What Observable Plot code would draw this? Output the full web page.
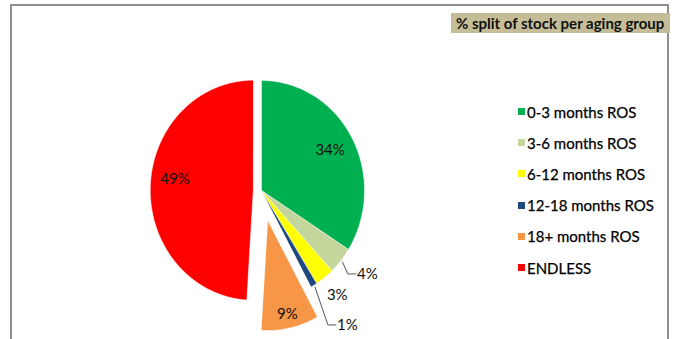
<!DOCTYPE html>
<html>
<head>
<meta charset="utf-8">
<script src="https://cdn.jsdelivr.net/npm/d3@7"></script>
<script src="https://cdn.jsdelivr.net/npm/@observablehq/plot@0.6"></script>
<style>
  html, body { margin: 0; padding: 0; background: #fff; }
  #wrap { position: relative; width: 679px; height: 339px; overflow: hidden; font-family: Lato, "Open Sans", sans-serif; }
  #frame { position: absolute; left: 10px; top: 4px; width: 659px; height: 400px; border: 2px solid #8f8f8f; border-bottom: none; box-sizing: border-box; }
  #title { position: absolute; left: 451px; top: 13px; width: 219px; height: 20px; background: #c4bd97; font-weight: bold; font-size: 15px; line-height: 20px; color: #111; padding-left: 5px; box-sizing: border-box; white-space: nowrap; }
  #legend { position: absolute; left: 518px; top: 96px; }
  .row { height: 31.2px; display: flex; align-items: center; font-size: 15px; color: #000; white-space: nowrap; -webkit-text-stroke: 0.25px #000; }
  .sw { width: 7px; height: 7px; margin-right: 2px; }
  #chart { position: absolute; left: 0; top: 0; }
</style>
</head>
<body>
<div id="wrap">
  <div id="chart"></div>
  <div id="frame"></div>
  <div id="title">% split of stock per aging group</div>
  <div id="legend"></div>
</div>
<script>
const categories = ["0-3 months ROS", "3-6 months ROS", "6-12 months ROS", "12-18 months ROS", "18+ months ROS", "ENDLESS"];
const values = [34, 4, 3, 1, 9, 49];
const labels = ["34%", "4%", "3%", "1%", "9%", "49%"];
const colors = ["#00B050", "#C3D69B", "#FFFF00", "#1F497D", "#F79646", "#FF0000"];

// presentation settings (not data)
const RX = 103; // px per unit on x
const RY = 110; // px per unit on y
const explodeBy = {"18+ months ROS": 0.28, "ENDLESS": 0.08};
const labelCfg = {
  "0-3 months ROS": {r: 0.76, anchor: "middle", leader: false, dy: 0},
  "3-6 months ROS": {r: 1.19, anchor: "start", leader: true, dy: 0},
  "6-12 months ROS": {r: 1.2, anchor: "middle", leader: false, dy: 0},
  "12-18 months ROS": {r: 1.42, anchor: "start", leader: true, dy: 0},
  "18+ months ROS": {r: 0.87, anchor: "middle", leader: false, dy: 0},
  "ENDLESS": {r: 0.76, anchor: "middle", leader: false, dy: -8}
};

const data = categories.map((c, i) => ({cat: c, value: values[i], label: labels[i]}));
const arcs = d3.pie().sort(null).value(d => d.value)(data);

const pt = (a, r) => [r * Math.sin(a), r * Math.cos(a)];

const poly = [];
const textStart = [], textMiddle = [], leaders = [];
arcs.forEach(arc => {
  const cat = arc.data.cat;
  const mid = (arc.startAngle + arc.endAngle) / 2;
  const e = explodeBy[cat] || 0;
  const [ox, oy] = pt(mid, e);
  poly.push({cat, x: ox, y: oy});
  const n = Math.max(2, Math.ceil((arc.endAngle - arc.startAngle) / 0.01));
  for (let k = 0; k <= n; k++) {
    const a = arc.startAngle + (arc.endAngle - arc.startAngle) * k / n;
    const [x, y] = pt(a, 1);
    poly.push({cat, x: x + ox, y: y + oy});
  }
  const cfg = labelCfg[cat];
  const [lx, ly] = pt(mid, cfg.r);
  const L = {cat, text: arc.data.label, x: lx + ox, y: ly + oy - cfg.dy / RY};
  if (cfg.leader) {
    const [sx, sy] = pt(mid, 1.02);
    leaders.push({cat, x: sx + ox, y: sy + oy});
    leaders.push({cat, x: L.x - 8 / RX, y: L.y});
    leaders.push({cat, x: L.x, y: L.y});
    L.x += 1 / RX;
  }
  (cfg.anchor === "start" ? textStart : textMiddle).push(L);
});

const chart = Plot.plot({
  width: 679,
  height: 339,
  margin: 0,
  x: {domain: [-1, 1], range: [261 - RX, 261 + RX], axis: null},
  y: {domain: [-1, 1], range: [190 + RY, 190 - RY], axis: null},
  color: {domain: categories, range: colors},
  style: {background: "transparent"},
  marks: [
    Plot.line(poly, {x: "x", y: "y", z: "cat", fill: "cat", stroke: "white", strokeWidth: 0.5, curve: "linear-closed"}),
    Plot.line(leaders, {x: "x", y: "y", z: "cat", stroke: "#555", strokeWidth: 1}),
    Plot.text(textMiddle, {x: "x", y: "y", text: "text", textAnchor: "middle", fontSize: 15, fontFamily: "Lato", fill: "#111"}),
    Plot.text(textStart, {x: "x", y: "y", text: "text", textAnchor: "start", fontSize: 15, fontFamily: "Lato", fill: "#111"})
  ]
});
document.getElementById("chart").appendChild(chart);

const legend = document.getElementById("legend");
categories.forEach((c, i) => {
  const row = document.createElement("div");
  row.className = "row";
  const sw = document.createElement("span");
  sw.className = "sw";
  sw.style.background = colors[i];
  const t = document.createElement("span");
  t.textContent = c;
  row.appendChild(sw);
  row.appendChild(t);
  legend.appendChild(row);
});
</script>
</body>
</html>
